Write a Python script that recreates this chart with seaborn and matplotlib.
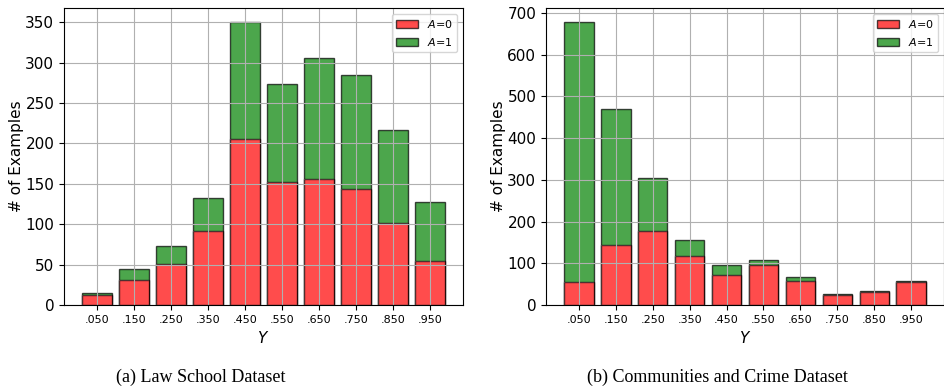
import matplotlib
matplotlib.use("Agg")
import matplotlib.pyplot as plt
import seaborn as sns
import numpy as np

# bin centres of the target Y
y_bins = [".050", ".150", ".250", ".350", ".450", ".550", ".650", ".750", ".850", ".950"]

# Law School: counts per bin for A=0 and totals (A=0 + A=1)
law_a0 = [12, 31, 51, 92, 206, 152, 156, 143, 101, 54]
law_total = [15, 45, 73, 132, 350, 273, 306, 284, 217, 128]

# Communities and Crime
crime_a0 = [55, 143, 177, 118, 72, 97, 58, 25, 31, 56]
crime_total = [678, 470, 305, 155, 97, 107, 66, 26, 34, 57]

captions = ["(a) Law School Dataset", "(b) Communities and Crime Dataset"]

fig = plt.figure(figsize=(9.45, 3.9), dpi=100)
ax1 = fig.add_axes([0.0677, 0.218, 0.4222, 0.7615])
ax2 = fig.add_axes([0.5778, 0.218, 0.4212, 0.7615])


def stacked(ax, a0, total):
    # green = full bar height; red part drawn on an opaque white base so
    # the translucent colours don't mix
    sns.barplot(x=y_bins, y=total, color="green", alpha=0.7, saturation=1,
                edgecolor="black", linewidth=1, width=0.8, ax=ax, label="$A$=1")
    sns.barplot(x=y_bins, y=a0, color="white", saturation=1,
                linewidth=0, width=0.8, ax=ax)
    sns.barplot(x=y_bins, y=a0, color="red", alpha=0.7, saturation=1,
                edgecolor="black", linewidth=1, width=0.8, ax=ax, label="$A$=0")
    ax.set_xlim(-0.89, 9.89)
    ax.grid(True, color="#b0b0b0", linewidth=0.8)
    ax.set_xlabel("$Y$", fontsize=11)
    ax.set_ylabel("# of Examples", fontsize=11, labelpad=1)
    ax.tick_params(axis="x", labelsize=8)
    ax.tick_params(axis="y", labelsize=11)
    h, l = ax.get_legend_handles_labels()
    ax.legend(h[::-1], l[::-1], loc="upper right", fontsize=8)


stacked(ax1, law_a0, law_total)
stacked(ax2, crime_a0, crime_total)

fig.text(201 / 945, 1 - 377 / 390, captions[0], ha="center", va="center",
         family="Liberation Serif", fontsize=13)
fig.text(717 / 945, 1 - 377 / 390, captions[1], ha="center", va="center",
         family="Liberation Serif", fontsize=13)

fig.savefig("out.png", dpi=100)
